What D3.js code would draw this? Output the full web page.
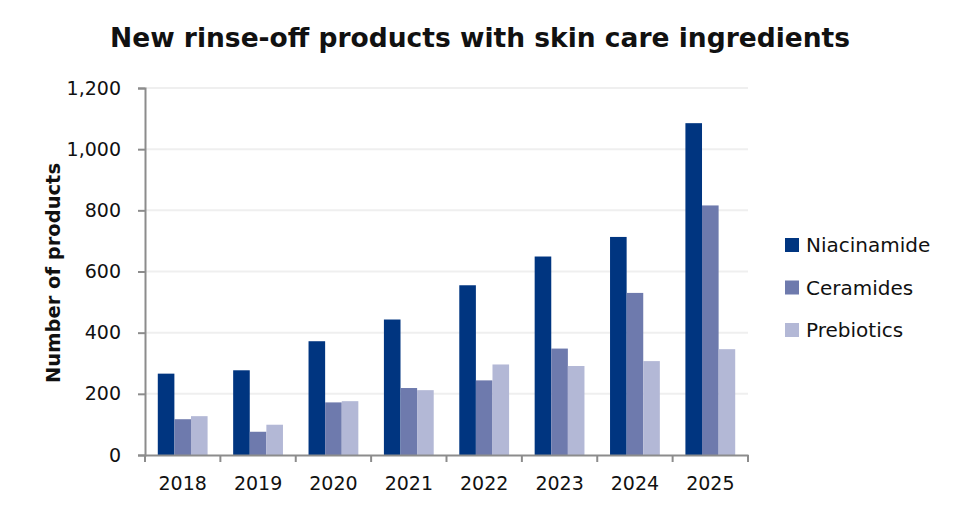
<!DOCTYPE html>
<html>
<head>
<meta charset="utf-8">
<script src="https://cdn.jsdelivr.net/npm/d3@7"></script>
<style>
  body { margin: 0; background: #fff; }
  svg text { font-family: "DejaVu Sans", "Liberation Sans", sans-serif; fill: #111; }
</style>
</head>
<body>
<script>
var years = ["2018", "2019", "2020", "2021", "2022", "2023", "2024", "2025"];
var seriesNames = ["Niacinamide", "Ceramides", "Prebiotics"];
var niacinamide = [266, 277, 372, 443, 555, 649, 713, 1085];
var ceramides = [117, 76, 172, 219, 244, 348, 530, 816];
var prebiotics = [127, 99, 176, 212, 296, 291, 307, 346];
var yTicks = [0, 200, 400, 600, 800, 1000, 1200];
var colors = ["#003580", "#6e7aad", "#b3b8d6"];

var _width = 960, _height = 515;
var _margin = {left: 145, top: 88, right: 212, bottom: 60};
var values = [niacinamide, ceramides, prebiotics];

var svg = d3.select("body").append("svg")
    .attr("width", _width)
    .attr("height", _height);

var x = d3.scaleBand()
    .domain(years)
    .range([_margin.left, _width - _margin.right]);

var xInner = d3.scaleBand()
    .domain(seriesNames)
    .range([0, x.bandwidth()])
    .paddingInner(0)
    .paddingOuter(0.77);

var y = d3.scaleLinear()
    .domain([0, 1200])
    .range([_height - _margin.bottom, _margin.top]);

// gridlines
svg.append("g")
    .selectAll("line")
    .data(yTicks.slice(1))
    .enter().append("line")
    .attr("x1", _margin.left)
    .attr("x2", _width - _margin.right)
    .attr("y1", function (d) { return y(d); })
    .attr("y2", function (d) { return y(d); })
    .attr("stroke", "#efefef")
    .attr("stroke-width", 2);

// bars
var groups = svg.append("g")
    .selectAll("g")
    .data(years)
    .enter().append("g")
    .attr("transform", function (d) { return "translate(" + x(d) + ",0)"; });

groups.selectAll("rect")
    .data(function (d, i) {
        return seriesNames.map(function (s, j) { return {name: s, value: values[j][i], k: j}; });
    })
    .enter().append("rect")
    .attr("x", function (d) { return xInner(d.name); })
    .attr("width", xInner.bandwidth())
    .attr("y", function (d) { return y(d.value); })
    .attr("height", function (d) { return y(0) - y(d.value); })
    .attr("fill", function (d) { return colors[d.k]; });

// y axis
var yAxis = svg.append("g")
    .attr("transform", "translate(" + _margin.left + ",0)")
    .call(d3.axisLeft(y).tickValues(yTicks).tickSize(7).tickPadding(17).tickFormat(d3.format(",")));
yAxis.select(".domain").attr("stroke", "#8c8c8c").attr("stroke-width", 2);
yAxis.selectAll(".tick line").attr("stroke", "#8c8c8c").attr("stroke-width", 2);
yAxis.selectAll("text").attr("font-size", "19px").attr("fill", "#111")
    .attr("font-family", "DejaVu Sans");

// x axis
var xAxis = svg.append("g")
    .attr("transform", "translate(0," + y(0) + ")")
    .call(d3.axisBottom(x).tickSize(0).tickPadding(22));
xAxis.select(".domain").attr("stroke", "#8c8c8c").attr("stroke-width", 2);
xAxis.selectAll("text").attr("font-size", "19px").attr("fill", "#111")
    .attr("font-family", "DejaVu Sans");

// x boundary ticks between categories
xAxis.append("g")
    .selectAll("line")
    .data(years.concat(["end"]))
    .enter().append("line")
    .attr("x1", function (d, i) { return _margin.left + i * x.step(); })
    .attr("x2", function (d, i) { return _margin.left + i * x.step(); })
    .attr("y1", 0)
    .attr("y2", 7)
    .attr("stroke", "#8c8c8c")
    .attr("stroke-width", 2);

// axis title
svg.append("text")
    .attr("transform", "translate(53,273) rotate(-90)")
    .attr("text-anchor", "middle")
    .attr("dy", "0.35em")
    .attr("font-size", "19.5px")
    .attr("font-weight", "bold")
    .text("Number of products");

// chart title
svg.append("text")
    .attr("x", 480)
    .attr("y", 47)
    .attr("text-anchor", "middle")
    .attr("font-size", "26.5px")
    .attr("font-weight", "bold")
    .text("New rinse-off products with skin care ingredients");

// legend
var legend = svg.append("g")
    .selectAll("g")
    .data(seriesNames)
    .enter().append("g")
    .attr("transform", function (d, i) { return "translate(785," + (245 + i * 42.5) + ")"; });

legend.append("rect")
    .attr("x", 0)
    .attr("y", -7)
    .attr("width", 14)
    .attr("height", 14)
    .attr("fill", function (d, i) { return colors[i]; });

legend.append("text")
    .attr("x", 21)
    .attr("y", 0)
    .attr("dy", "0.35em")
    .attr("font-size", "20px")
    .text(function (d) { return d; });
</script>
</body>
</html>
